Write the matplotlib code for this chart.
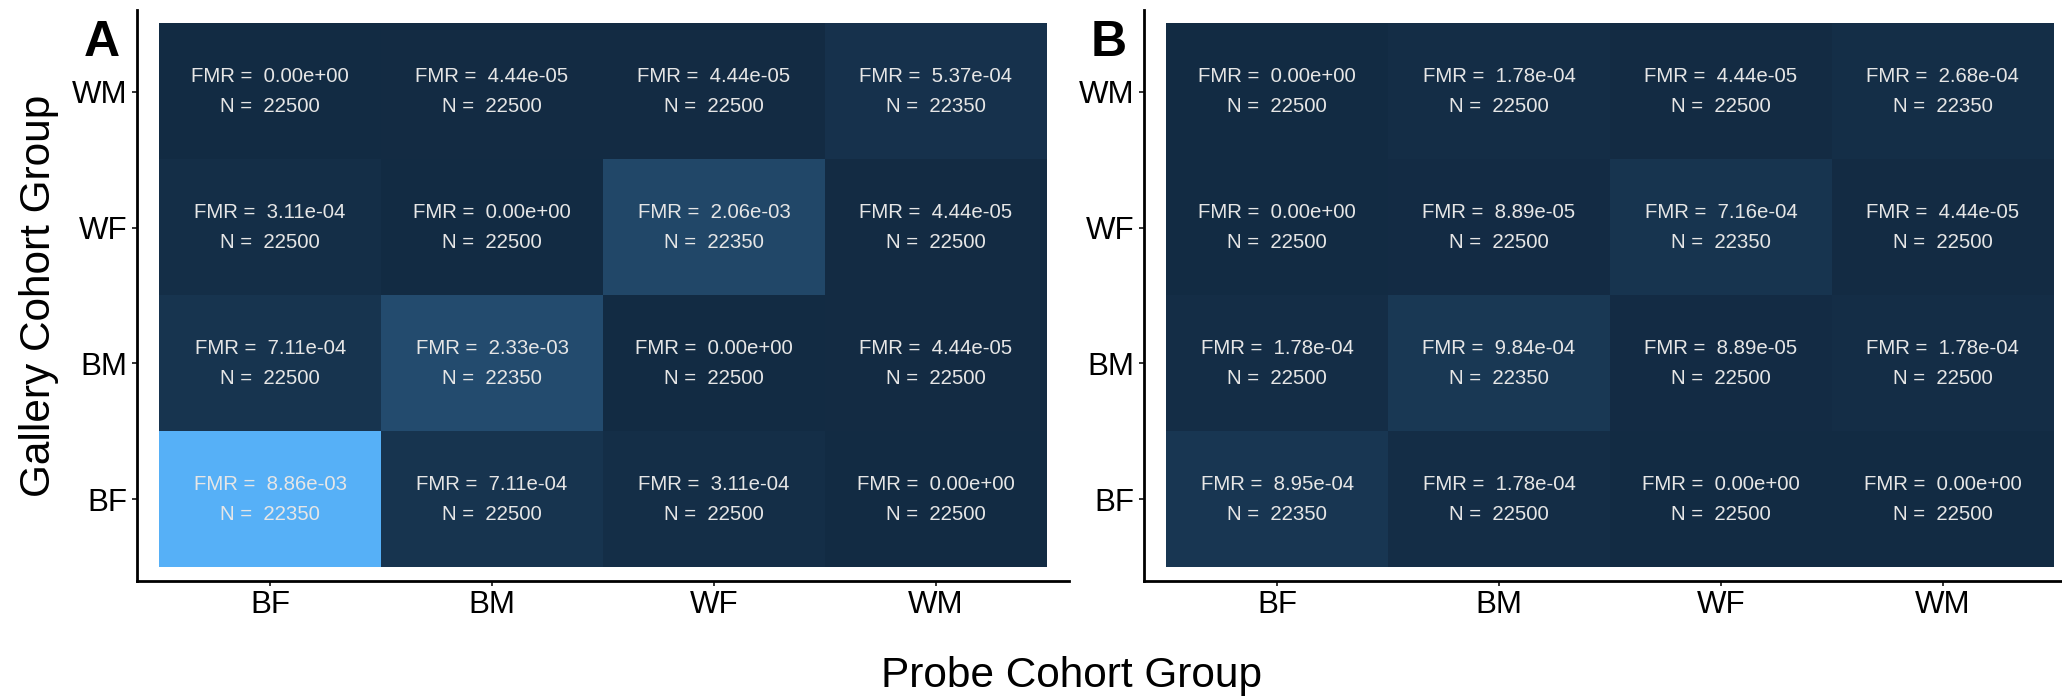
import numpy as np
import matplotlib
matplotlib.use("Agg")
import matplotlib.pyplot as plt
from matplotlib.colors import ListedColormap, to_rgb

plt.rcParams['font.family'] = ['Liberation Sans', 'DejaVu Sans']

groups = ["BF", "BM", "WF", "WM"]  # probe (x) and gallery (y), bottom to top

# rows: gallery BF, BM, WF, WM ; cols: probe BF, BM, WF, WM
fmr_a = [
    [8.86e-03, 7.11e-04, 3.11e-04, 0.00e+00],
    [7.11e-04, 2.33e-03, 0.00e+00, 4.44e-05],
    [3.11e-04, 0.00e+00, 2.06e-03, 4.44e-05],
    [0.00e+00, 4.44e-05, 4.44e-05, 5.37e-04],
]
n_a = [
    [22350, 22500, 22500, 22500],
    [22500, 22350, 22500, 22500],
    [22500, 22500, 22350, 22500],
    [22500, 22500, 22500, 22350],
]
fmr_b = [
    [8.95e-04, 1.78e-04, 0.00e+00, 0.00e+00],
    [1.78e-04, 9.84e-04, 8.89e-05, 1.78e-04],
    [0.00e+00, 8.89e-05, 7.16e-04, 4.44e-05],
    [0.00e+00, 1.78e-04, 4.44e-05, 2.68e-04],
]
n_b = n_a


# ggplot-style gradient, interpolated in CIELAB
M = np.array([[0.4124, 0.3576, 0.1805], [0.2126, 0.7152, 0.0722], [0.0193, 0.1192, 0.9505]])
WHITE = np.array([0.95047, 1.0, 1.08883])


def to_lab(rgb):
    c = np.array(rgb)
    c = np.where(c <= 0.04045, c / 12.92, ((c + 0.055) / 1.055) ** 2.4)
    xyz = M @ c / WHITE
    f = np.where(xyz > 216 / 24389, np.cbrt(xyz), (24389 / 27 * xyz + 16) / 116)
    return np.array([116 * f[1] - 16, 500 * (f[0] - f[1]), 200 * (f[1] - f[2])])


def from_lab(lab):
    fy = (lab[0] + 16) / 116
    f = np.array([fy + lab[1] / 500, fy, fy - lab[2] / 200])
    xyz = np.where(f ** 3 > 216 / 24389, f ** 3, (116 * f - 16) / (24389 / 27)) * WHITE
    c = np.linalg.solve(M, xyz)
    c = np.where(c <= 0.0031308, 12.92 * c, 1.055 * np.clip(c, 0, None) ** (1 / 2.4) - 0.055)
    return np.clip(c, 0, 1)


lo, hi = to_lab(to_rgb("#132B43")), to_lab(to_rgb("#56B1F7"))
cmap = ListedColormap([from_lab(lo + t * (hi - lo)) for t in np.linspace(0, 1, 256)])
vmax = max(np.max(fmr_a), np.max(fmr_b))

W, H = 2062, 698
fig = plt.figure(figsize=(W / 100, H / 100), dpi=100)


def draw_panel(left_px, fmr, n, label):
    ax = fig.add_axes([left_px / W, (H - 581) / H, 932 / W, 571 / H])
    fmr = np.array(fmr)
    ax.imshow(fmr, cmap=cmap, vmin=0, vmax=vmax, origin='lower',
              extent=(0.5, 4.5, 0.5, 4.5), aspect='auto', interpolation='nearest')
    for i in range(4):
        for j in range(4):
            ax.annotate(f"FMR =  {fmr[i, j]:.2e}", (j + 1, i + 1), xytext=(0, 10.5),
                        textcoords='offset points', ha='center', va='center',
                        color='#e6e6e6', fontsize=14.7)
            ax.annotate(f"N =  {n[i][j]}", (j + 1, i + 1), xytext=(0, -10.5),
                        textcoords='offset points', ha='center', va='center',
                        color='#e6e6e6', fontsize=14.7)
    ax.set_xlim(0.4, 4.6)
    ax.set_ylim(0.4, 4.6)
    ax.set_xticks(range(1, 5))
    ax.set_xticklabels(groups)
    ax.set_yticks(range(1, 5))
    ax.set_yticklabels(groups)
    for s in ['top', 'right']:
        ax.spines[s].set_visible(False)
    for s in ['left', 'bottom']:
        ax.spines[s].set_linewidth(2.0)
    ax.tick_params(labelsize=22.5, length=3.8, width=1.4, pad=3, color='#333333')
    fig.text((left_px - 35) / W, 1 - 43 / H, label, fontsize=36, fontweight='bold',
             ha='center', va='center')
    return ax


draw_panel(137, fmr_a, n_a, "A")
draw_panel(1144, fmr_b, n_b, "B")

fig.text(1072 / W, 1 - 676 / H, "Probe Cohort Group", fontsize=30.5, ha='center', va='center')
fig.text(39 / W, 1 - 296 / H, "Gallery Cohort Group", fontsize=30.5, ha='center', va='center',
         rotation=90)

fig.savefig("out.png", dpi=100)
